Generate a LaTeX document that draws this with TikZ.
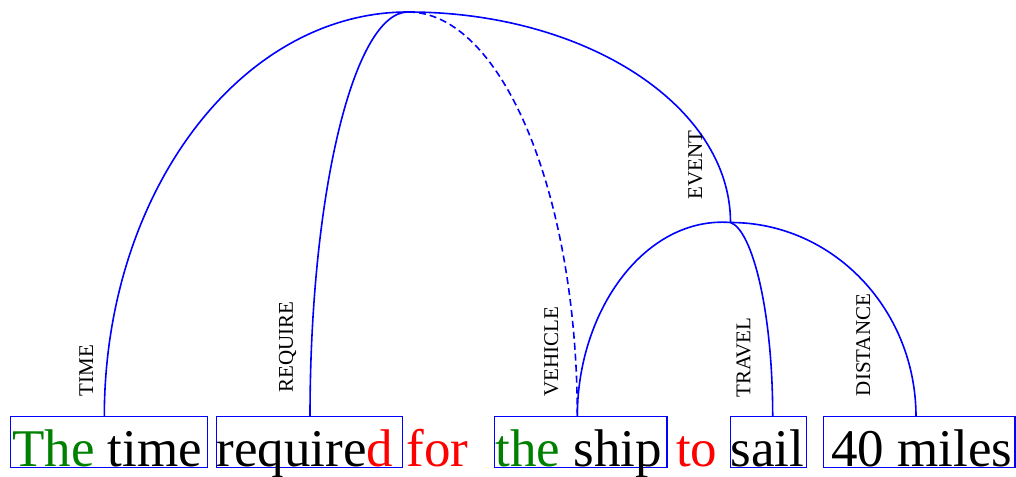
\documentclass[tikz,border=0pt]{standalone}
\usepackage{fontspec}
\setmainfont{Liberation Serif}
\definecolor{arcblue}{RGB}{0,0,255}
\definecolor{detgreen}{RGB}{0,128,0}
\definecolor{fnred}{RGB}{255,0,0}
\tikzset{
  wordbox/.style={draw=arcblue, line width=1.5pt},
  arcline/.style={draw=arcblue, line width=1.6pt},
  word/.style={anchor=base west, inner sep=0pt, font=\fontsize{53}{60}\selectfont},
  rel/.style={rotate=90, inner sep=0pt, font=\fontsize{21}{24}\selectfont}
}
\begin{document}
\begin{tikzpicture}[x=1pt,y=-1pt]
\useasboundingbox (0,0) rectangle (1016,476);
% boxes
\draw[wordbox] (10.7,416.7) rectangle (207.3,467.7);
\draw[wordbox] (216.7,416.7) rectangle (402.7,467.7);
\draw[wordbox] (494.3,416.7) rectangle (667,467.7);
\draw[wordbox] (730.7,416.7) rectangle (806.5,467.7);
\draw[wordbox] (823.3,416.7) rectangle (1015,467.7);
% words
\node[word] (w1) at (12,466.5) {\textcolor{detgreen}{The} time};
\node[word] (w2) at (216.5,466.5) {require\textcolor{fnred}{d for}};
\node[word] (w3) at (495.3,466.5) {\textcolor{detgreen}{the} ship};
\node[word, text=fnred] (w4) at (676,466.5) {to};
\node[word] (w5) at (730.5,466.5) {sail};
\node[word] (w6) at (831,466.5) {40 miles};
% attachment points
\coordinate (root) at (408,12);
\coordinate (sub) at (730.5,222.5);
\coordinate (aTime) at (104.3,416.7);
\coordinate (aReq) at (310,416.7);
\coordinate (aVeh) at (577.3,416.7);
\coordinate (aSail) at (772.7,416.7);
\coordinate (aMiles) at (916,416.7);
% arcs
\draw[arcline] (aTime) .. controls (104.3,193.2) and (240.3,12) .. (root);
\draw[arcline] (aReq) .. controls (310,193.2) and (353.9,12) .. (root);
\draw[arcline, dash pattern=on 7pt off 4pt] (root) .. controls (501.5,12) and (577.3,193.2) .. (aVeh);
\draw[arcline] (root) .. controls (586.1,12) and (730.5,106.2) .. (sub);
\draw[arcline] (aVeh) .. controls (577.3,309.4) and (645.9,216) .. (sub);
\draw[arcline] (sub) .. controls (752,230) and (772.7,309.4) .. (aSail);
\draw[arcline] (sub) .. controls (833,222.5) and (916,309.4) .. (aMiles);
% labels
\node[rel] (lTime) at (86.2,370.8) {TIME};
\node[rel] (lReq) at (287.5,346.7) {REQUIRE};
\node[rel] (lVeh) at (551.3,351.7) {VEHICLE};
\node[rel] (lEvent) at (695.3,165) {EVENT};
\node[rel] (lTravel) at (743.5,357.5) {TRAVEL};
\node[rel] (lDist) at (863.3,345) {DISTANCE};
\end{tikzpicture}
\end{document}
